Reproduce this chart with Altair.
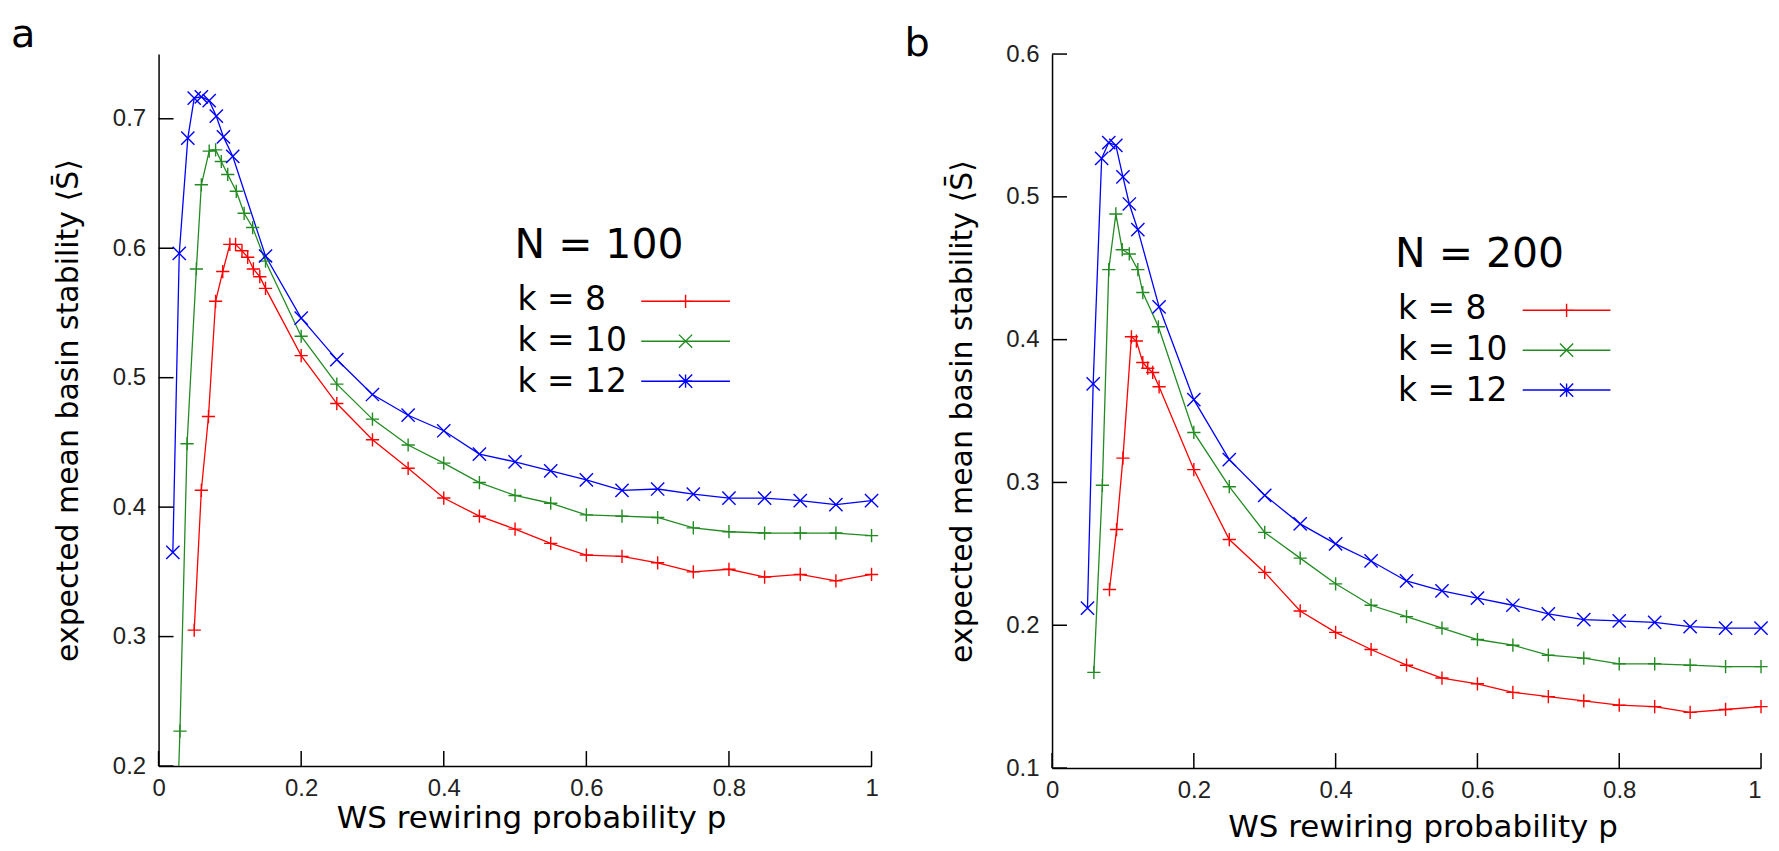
import altair as alt
import pandas as pd

# ---------------- data ----------------
K_LABELS = ["k = 8", "k = 10", "k = 12"]
COLORS = ["#ff0000", "#228b22", "#0000ff"]

TAIL_P = [0.2, 0.25, 0.3, 0.35, 0.4, 0.45, 0.5, 0.55, 0.6, 0.65, 0.7, 0.75, 0.8, 0.85, 0.9, 0.95, 1.0]

# Panel a : N = 100
a_p8 = [0.05, 0.06, 0.07, 0.08, 0.09, 0.10, 0.108, 0.117, 0.125, 0.133, 0.142, 0.15] + TAIL_P
a_v8 = [0.305, 0.413, 0.470, 0.559, 0.582, 0.603, 0.603, 0.598, 0.593, 0.584, 0.578, 0.569,
        0.517, 0.480, 0.452, 0.430, 0.407, 0.393, 0.383, 0.372, 0.363, 0.362, 0.357, 0.350,
        0.352, 0.346, 0.348, 0.343, 0.348]
a_p10 = [0.02, 0.03, 0.04, 0.053, 0.06, 0.071, 0.08, 0.088, 0.097, 0.109, 0.12, 0.132, 0.15] + TAIL_P
a_v10 = [0.06, 0.227, 0.449, 0.584, 0.649, 0.675, 0.676, 0.667, 0.657, 0.644, 0.627, 0.616, 0.590,
         0.532, 0.495, 0.468, 0.448, 0.434, 0.419, 0.409, 0.403, 0.394, 0.393, 0.392, 0.384,
         0.381, 0.380, 0.380, 0.380, 0.378]
a_p12 = [0.02, 0.029, 0.041, 0.05, 0.06, 0.071, 0.081, 0.091, 0.104, 0.15] + TAIL_P
a_v12 = [0.365, 0.596, 0.685, 0.716, 0.717, 0.714, 0.702, 0.686, 0.671, 0.594,
         0.546, 0.514, 0.487, 0.471, 0.459, 0.441, 0.435, 0.428, 0.421, 0.413, 0.414, 0.410,
         0.407, 0.407, 0.405, 0.402, 0.405]

# Panel b : N = 200
b_p8 = [0.081, 0.091, 0.10, 0.112, 0.119, 0.128, 0.135, 0.142, 0.151] + TAIL_P
b_v8 = [0.225, 0.267, 0.317, 0.402, 0.399, 0.384, 0.380, 0.377, 0.367,
        0.309, 0.260, 0.237, 0.210, 0.195, 0.183, 0.172, 0.163, 0.159, 0.153, 0.150, 0.147,
        0.144, 0.143, 0.139, 0.141, 0.143]
b_p10 = [0.059, 0.071, 0.08, 0.09, 0.099, 0.109, 0.121, 0.128, 0.15] + TAIL_P
b_v10 = [0.167, 0.298, 0.449, 0.488, 0.463, 0.460, 0.449, 0.433, 0.409,
         0.335, 0.297, 0.265, 0.247, 0.229, 0.214, 0.206, 0.198, 0.190, 0.186, 0.179, 0.177,
         0.173, 0.173, 0.172, 0.171, 0.171]
b_p12 = [0.05, 0.058, 0.07, 0.08, 0.09, 0.10, 0.109, 0.121, 0.151] + TAIL_P
b_v12 = [0.212, 0.369, 0.527, 0.538, 0.536, 0.514, 0.495, 0.477, 0.423,
         0.358, 0.316, 0.291, 0.271, 0.257, 0.245, 0.231, 0.224, 0.219, 0.214, 0.208, 0.204,
         0.203, 0.202, 0.199, 0.198, 0.198]

X_TICKS = [0, 0.2, 0.4, 0.6, 0.8, 1.0]
A_Y_TICKS = [0.2, 0.3, 0.4, 0.5, 0.6, 0.7]
B_Y_TICKS = [0.1, 0.2, 0.3, 0.4, 0.5, 0.6]

X_TITLE = "WS rewiring probability p"
Y_TITLE = "expected mean basin stability \u27e8S\u0304\u27e9"

# marker glyphs (gnuplot-like)
PLUS = "M-1,0L1,0M0,-1L0,1"
CROSS = "M-1,-1L1,1M-1,1L1,-1"
STAR = "M-1,0L1,0M0,-1L0,1M-1,-1L1,1M-1,1L1,-1"

TITLE_FONT = "DejaVu Sans"
TICK_FONT = "Liberation Sans"
MARK_SIZE = 176


def series_df(groups):
    frames = []
    for lab, ps, vs in groups:
        frames.append(pd.DataFrame({"p": ps, "v": vs, "k": lab}))
    return pd.concat(frames, ignore_index=True)


def panel(df, shapes, ydom, yticks, w, h, letter, letter_pos, n_text, n_pos, leg, xtitle_y, last_right):
    xs = alt.Scale(domain=[0, 1], nice=False, zero=False)
    ys = alt.Scale(domain=ydom, nice=False, zero=False)
    if last_right:
        x_label_align = {"condition": {"test": "datum.value >= 1", "value": "right"}, "value": "center"}
    else:
        x_label_align = "center"
    x_enc = alt.X("p:Q", scale=xs, axis=alt.Axis(
        values=X_TICKS, format="~g", title=X_TITLE, ticks=False, grid=False,
        labelPadding=11, labelFont=TICK_FONT, labelFontSize=24, labelColor="#222222",
        labelFlush=False, labelOverlap=False, labelAlign=x_label_align,
        domainColor="black", domainWidth=1.5,
        titleFont=TITLE_FONT, titleFontSize=31, titleFontWeight="normal", titleColor="black",
        titleX=w / 2 + 16, titleY=xtitle_y, titleBaseline="alphabetic", titleAlign="center"))
    y_enc = alt.Y("v:Q", scale=ys, axis=alt.Axis(
        values=yticks, format="~g", title=Y_TITLE, ticks=False, grid=False,
        labelPadding=13, labelFont=TICK_FONT, labelFontSize=24, labelColor="#222222",
        labelFlush=False, labelOverlap=False,
        domainColor="black", domainWidth=1.5,
        titleFont=TITLE_FONT, titleFontSize=30, titleFontWeight="normal", titleColor="black",
        titleX=-90, titleY=h / 2, titleAngle=270, titleBaseline="middle", titleAlign="center"))
    color = alt.Color("k:N", scale=alt.Scale(domain=K_LABELS, range=COLORS), legend=None)
    shape = alt.Shape("k:N", scale=alt.Scale(domain=K_LABELS, range=shapes), legend=None)

    base = alt.Chart(df)
    lines = base.mark_line(strokeWidth=1.3, clip=True).encode(x=x_enc, y=y_enc, color=color)
    pts = base.transform_filter(f"datum.v >= {ydom[0]}").mark_point(
        filled=False, size=MARK_SIZE, strokeWidth=1.4, opacity=1).encode(
        x=x_enc, y=y_enc, color=color, shape=shape)

    xt = alt.Chart(pd.DataFrame({"p": X_TICKS})).mark_rule(color="black", strokeWidth=1.5).encode(
        x=x_enc, y=alt.value(h), y2=alt.value(h - 15))
    yt = alt.Chart(pd.DataFrame({"v": yticks})).mark_rule(color="black", strokeWidth=1.5).encode(
        y=y_enc, x=alt.value(0), x2=alt.value(15))

    layers = [lines, pts, xt, yt]

    one = pd.DataFrame({"t": [letter]})
    layers.append(alt.Chart(one).mark_text(align="left", baseline="alphabetic", font=TITLE_FONT,
                                           fontSize=40, color="black").encode(
        text="t:N", x=alt.value(letter_pos[0]), y=alt.value(letter_pos[1])))
    nt = pd.DataFrame({"t": [n_text]})
    layers.append(alt.Chart(nt).mark_text(align="left", baseline="alphabetic", font=TITLE_FONT,
                                          fontSize=41, color="black").encode(
        text="t:N", x=alt.value(n_pos[0]), y=alt.value(n_pos[1])))

    tx, ty, lx1, lx2, ly = leg
    leg_shapes = [PLUS, CROSS, STAR]
    for i, lab in enumerate(K_LABELS):
        d = pd.DataFrame({"t": [lab]})
        layers.append(alt.Chart(d).mark_text(align="left", baseline="alphabetic", font=TITLE_FONT,
                                             fontSize=33, color="black").encode(
            text="t:N", x=alt.value(tx), y=alt.value(ty + i * 41)))
        layers.append(alt.Chart(d).mark_rule(color=COLORS[i], strokeWidth=1.5).encode(
            x=alt.value(lx1), x2=alt.value(lx2), y=alt.value(ly + i * 40)))
        layers.append(alt.Chart(d).mark_point(shape=leg_shapes[i], filled=False, size=MARK_SIZE,
                                              strokeWidth=1.4, color=COLORS[i], opacity=1).encode(
            x=alt.value((lx1 + lx2) / 2), y=alt.value(ly + i * 40)))

    return alt.layer(*layers).properties(width=w, height=h)


dfa = series_df([(K_LABELS[0], a_p8, a_v8), (K_LABELS[1], a_p10, a_v10), (K_LABELS[2], a_p12, a_v12)])
dfb = series_df([(K_LABELS[0], b_p8, b_v8), (K_LABELS[1], b_p10, b_v10), (K_LABELS[2], b_p12, b_v12)])

pa = panel(dfa, [PLUS, PLUS, CROSS], [0.2, 0.75], A_Y_TICKS, 715, 714,
           "a", (-148, -7), "N = 100", (357, 205), (360, 257, 484, 573, 248), 62, False)
pb = panel(dfb, [PLUS, CROSS, STAR], [0.1, 0.6], B_Y_TICKS, 711, 716,
           "b", (-148, 2), "N = 200", (344, 214), (347, 266, 472, 560, 257), 69, True)

chart = alt.hconcat(pa, pb, spacing=23).configure_view(strokeWidth=0).properties(
    padding={"left": 3, "top": 6, "right": 0, "bottom": 0})

chart.save("out.html", embed_options={"renderer": "svg", "actions": False})
